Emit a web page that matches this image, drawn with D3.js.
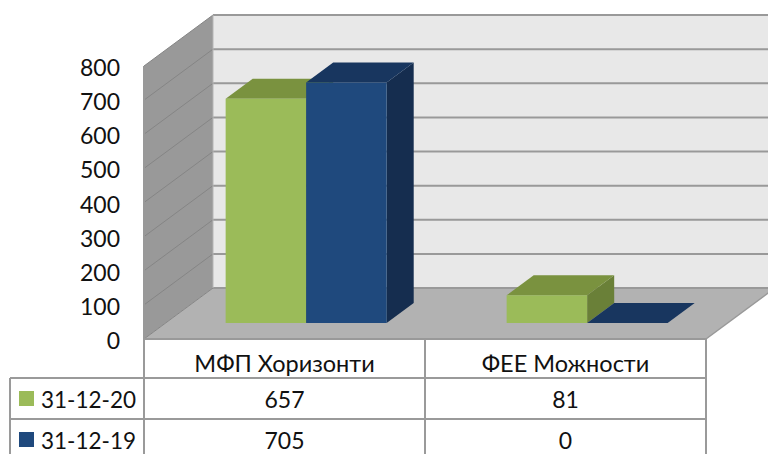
<!DOCTYPE html>
<html>
<head>
<meta charset="utf-8">
<script src="https://d3js.org/d3.v7.min.js"></script>
<style>
  html, body { margin: 0; padding: 0; background: white; }
  svg { display: block; }
  text { font-family: Lato, "Open Sans", sans-serif; fill: #111; }
</style>
</head>
<body>
<svg width="768" height="454"></svg>
<script>
  var categories = ["МФП Хоризонти", "ФЕЕ Можности"];
  var seriesNames = ["31-12-20", "31-12-19"];
  var values2020 = [657, 81];
  var values2019 = [705, 0];
  var tickValues = [0, 100, 200, 300, 400, 500, 600, 700, 800];

  var lightColors = ["#9bbb59", "#1f497d"];
  var topColors = ["#7a923f", "#18365f"];
  var sideColors = ["#6a8038", "#152d4f"];
  var gridColor = "#999999";
  var tableColor = "#9a9a9a";

  var svg = d3.select("svg");

  var plotLeft = 144, plotRight = 706, plotTop = 66, plotBottom = 339;
  var depthX = 69, depthY = 51;

  var xs = d3.scaleBand().domain(d3.range(categories.length)).range([plotLeft, plotRight]);
  var ys = d3.scaleLinear().domain([0, 800]).range([plotBottom, plotTop]);
  var inner = d3.scaleBand().domain(d3.range(seriesNames.length))
    .range([60, xs.bandwidth() - 60]);

  // x in the front plane, v the value, z 0 (front) .. 1 (back wall)
  function project(x, v, z) {
    return [x + z * depthX, ys(v) - z * depthY];
  }
  function poly(points) {
    return "M" + points.map(function (p) { return p.join(","); }).join("L") + "Z";
  }

  // back wall
  svg.append("path")
    .attr("d", poly([project(plotLeft, 800, 1), [768, ys(800) - depthY], [768, ys(0) - depthY], project(plotLeft, 0, 1)]))
    .attr("fill", "#e8e8e8");
  // left wall
  svg.append("path")
    .attr("d", poly([project(plotLeft, 0, 0), project(plotLeft, 800, 0), project(plotLeft, 800, 1), project(plotLeft, 0, 1)]))
    .attr("fill", "#999999");
  // floor
  svg.append("path")
    .attr("d", poly([project(plotLeft, 0, 0), project(plotRight, 0, 0), project(plotRight, 0, 1), [768, ys(0) - depthY], project(plotLeft, 0, 1)]))
    .attr("fill", "#b2b2b2");

  // gridlines on walls
  svg.append("g").selectAll("line").data(tickValues).enter().append("line")
    .attr("x1", project(plotLeft, 0, 1)[0])
    .attr("x2", 768)
    .attr("y1", function (d) { return project(plotLeft, d, 1)[1]; })
    .attr("y2", function (d) { return project(plotLeft, d, 1)[1]; })
    .attr("stroke", gridColor)
    .attr("stroke-width", 2);
  svg.append("g").selectAll("line").data(tickValues).enter().append("line")
    .attr("x1", plotLeft)
    .attr("y1", function (d) { return ys(d); })
    .attr("x2", project(plotLeft, 0, 1)[0])
    .attr("y2", function (d) { return project(plotLeft, d, 1)[1]; })
    .attr("stroke", "#858585")
    .attr("stroke-width", 1);
  svg.append("line")
    .attr("x1", plotLeft).attr("y1", plotTop).attr("x2", plotLeft).attr("y2", plotBottom)
    .attr("stroke", gridColor).attr("stroke-width", 2);
  svg.append("line")
    .attr("x1", project(plotLeft, 0, 1)[0]).attr("y1", project(plotLeft, 800, 1)[1])
    .attr("x2", project(plotLeft, 0, 1)[0]).attr("y2", project(plotLeft, 0, 1)[1])
    .attr("stroke", "#b5b5b5").attr("stroke-width", 1);
  svg.append("line")
    .attr("x1", project(plotRight, 0, 0)[0]).attr("y1", ys(0))
    .attr("x2", project(plotRight, 0, 1)[0]).attr("y2", project(plotRight, 0, 1)[1])
    .attr("stroke", gridColor).attr("stroke-width", 1.5);

  // bars, left to right
  var z0 = 16 / 51, z1 = 36 / 51;
  [values2020, values2019].forEach(function (vals, s) {
    vals.forEach(function (v, c) {
      var x0 = xs(c) + inner(s);
      var x1 = x0 + inner.bandwidth();
      var g = svg.append("g");
      g.append("path")
        .attr("d", poly([project(x1, 0, z0), project(x1, v, z0), project(x1, v, z1), project(x1, 0, z1)]))
        .attr("fill", sideColors[s]);
      g.append("path")
        .attr("d", poly([project(x0, v, z0), project(x1, v, z0), project(x1, v, z1), project(x0, v, z1)]))
        .attr("fill", topColors[s]);
      g.append("path")
        .attr("d", poly([project(x0, 0, z0), project(x1, 0, z0), project(x1, v, z0), project(x0, v, z0)]))
        .attr("fill", lightColors[s]);
    });
  });

  // y axis labels
  svg.append("g").selectAll("text").data(tickValues).enter().append("text")
    .attr("x", 120)
    .attr("y", function (d) { return ys(d) + 2; })
    .attr("dy", "0.35em")
    .attr("text-anchor", "end")
    .attr("font-size", 23)
    .text(function (d) { return d; });

  // data table
  var rowY = [339, 378, 419, 460];
  var colX = [10, plotLeft, xs(1), plotRight];

  svg.append("line").attr("x1", plotLeft).attr("x2", plotRight).attr("y1", rowY[0]).attr("y2", rowY[0])
    .attr("stroke", gridColor).attr("stroke-width", 2);
  rowY.slice(1).forEach(function (y) {
    svg.append("line").attr("x1", colX[0]).attr("x2", plotRight).attr("y1", y).attr("y2", y)
      .attr("stroke", tableColor).attr("stroke-width", 2);
  });
  colX.forEach(function (x, i) {
    svg.append("line").attr("x1", x).attr("x2", x)
      .attr("y1", i == 0 ? rowY[1] : rowY[0]).attr("y2", 454)
      .attr("stroke", tableColor).attr("stroke-width", 2);
  });

  categories.forEach(function (name, c) {
    svg.append("text")
      .attr("x", xs(c) + xs.bandwidth() / 2)
      .attr("y", (rowY[0] + rowY[1]) / 2 + 5)
      .attr("dy", "0.35em")
      .attr("text-anchor", "middle")
      .attr("font-size", 23.5)
      .text(name);
  });

  [values2020, values2019].forEach(function (vals, s) {
    var cy = (rowY[s + 1] + rowY[s + 2]) / 2;
    svg.append("rect")
      .attr("x", 19).attr("y", cy - 7.5).attr("width", 15).attr("height", 15)
      .attr("fill", lightColors[s]);
    svg.append("text")
      .attr("x", 41).attr("y", cy + 1.5)
      .attr("dy", "0.35em")
      .attr("font-size", 22.5)
      .text(seriesNames[s]);
    vals.forEach(function (v, c) {
      svg.append("text")
        .attr("x", xs(c) + xs.bandwidth() / 2)
        .attr("y", cy + 1.5)
        .attr("dy", "0.35em")
        .attr("text-anchor", "middle")
        .attr("font-size", 23)
        .text(v);
    });
  });
</script>
</body>
</html>
